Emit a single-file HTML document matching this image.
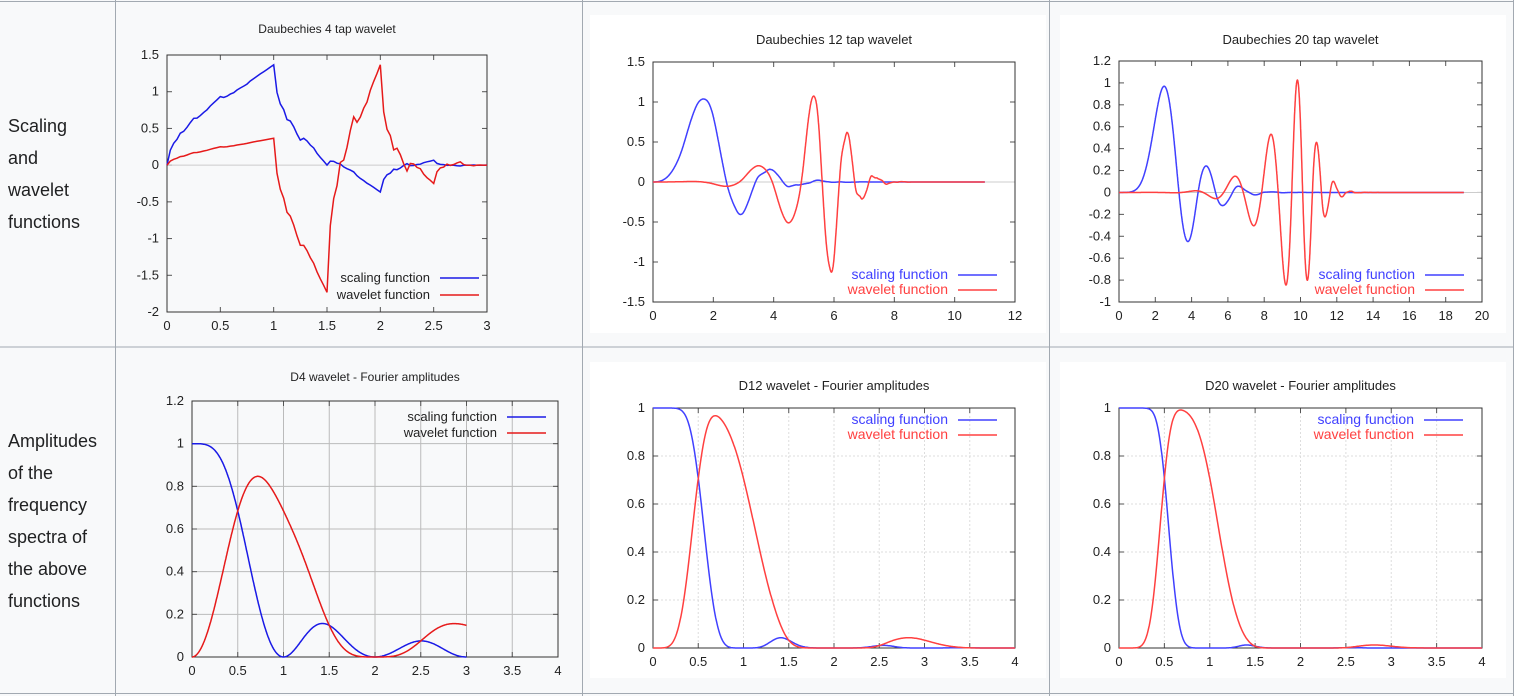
<!DOCTYPE html>
<html><head><meta charset="utf-8">
<style>
html,body{margin:0;padding:0;background:#fff;}
body{width:1514px;height:696px;overflow:hidden;position:relative;font-family:"Liberation Sans",sans-serif;}
.lbl{position:absolute;left:8px;font-size:18px;line-height:32px;color:#202122;}
svg{position:absolute;left:0;top:0;}
</style></head>
<body>
<svg id="s" width="1514" height="696" xmlns="http://www.w3.org/2000/svg" font-family="Liberation Sans, sans-serif"></svg>
<div class="lbl" style="top:110px">Scaling<br>and<br>wavelet<br>functions</div>
<div class="lbl" style="top:425px">Amplitudes<br>of the<br>frequency<br>spectra of<br>the above<br>functions</div>
<script>
const S=document.getElementById('s');let out='';
out+='<rect x="0" y="0" width="1514" height="696" fill="#f8f9fa"/>';
out+='<rect x="590" y="15" width="456" height="318" fill="#fff"/><rect x="1060" y="15" width="446" height="318" fill="#fff"/>';
out+='<rect x="590" y="362" width="456" height="316" fill="#fff"/><rect x="1060" y="362" width="446" height="316" fill="#fff"/>';
const bc='#a2a9b1';
[1.5,347,693.5].forEach(y=>out+=`<line x1="0" x2="1514" y1="${y}" y2="${y}" stroke="${bc}"/>`);
[115.5,582.5,1049.5,1513.5].forEach(x=>out+=`<line y1="0" y2="696" x1="${x}" x2="${x}" stroke="${bc}"/>`);
const C=(r,i)=>({r,i}),add=(a,b)=>C(a.r+b.r,a.i+b.i),sub=(a,b)=>C(a.r-b.r,a.i-b.i),mul=(a,b)=>C(a.r*b.r-a.i*b.i,a.r*b.i+a.i*b.r),
div=(a,b)=>{const d=b.r*b.r+b.i*b.i;return C((a.r*b.r+a.i*b.i)/d,(a.i*b.r-a.r*b.i)/d)},ab=a=>Math.hypot(a.r,a.i),
csqrt=a=>{const m=ab(a);let r=Math.sqrt((m+a.r)/2),i=Math.sqrt(Math.max(0,(m-a.r)/2));if(a.i<0)i=-i;return C(r,i)};
function binom(n,k){let r=1;for(let j=1;j<=k;j++)r=r*(n-k+j)/j;return r}
function daub(N){
 const a=[];for(let k=0;k<N;k++)a.push(binom(N-1+k,k));
 const deg=N-1,lead=a[deg];const p=a.map(v=>v/lead);
 let roots=[];for(let k=0;k<deg;k++){let z=C(1,0),b=C(0.4,0.9);for(let j=0;j<k;j++)z=mul(z,b);roots.push(z)}
 const ev=z=>{let r=C(0,0);for(let k=deg;k>=0;k--)r=add(mul(r,z),C(p[k],0));return r};
 for(let it=0;it<2000;it++){roots=roots.map((z,i)=>{let d=C(1,0);roots.forEach((w,j)=>{if(j!=i)d=mul(d,sub(z,w))});return sub(z,div(ev(z),d))})}
 let h=[C(1,0)];
 const mulp=(h,q)=>{const r=[];for(let i=0;i<h.length+q.length-1;i++)r.push(C(0,0));h.forEach((x,i)=>q.forEach((y,j)=>{r[i+j]=add(r[i+j],mul(x,y))}));return r};
 for(let k=0;k<N;k++)h=mulp(h,[C(1,0),C(1,0)]);
 roots.forEach(y=>{const b=sub(C(2,0),mul(C(4,0),y));const sq=csqrt(sub(mul(b,b),C(4,0)));let z1=mul(add(b,sq),C(.5,0)),z2=mul(sub(b,sq),C(.5,0));const z=ab(z1)<1?z1:z2;h=mulp(h,[C(-z.r,-z.i),C(1,0)])});
 let c=h.map(v=>v.r);const s=c.reduce((x,y)=>x+y,0);c=c.map(v=>v*2/s);
 const L=c.length;let e1=0,e2=0;c.forEach((v,i)=>{if(i<L/2)e1+=v*v;else e2+=v*v});if(e2>e1)c.reverse();return c}
function cascade(c,J,g0){const L=c.length;let g=g0||[1];
 for(let j=0;j<J;j++){const s=2**j,n2=(L-1)*2*s+1,gn=new Array(n2).fill(0);
  for(let n=0;n<n2;n++){let v=0;for(let k=0;k<L;k++){const m=n-k*s;if(m>=0&&m<g.length)v+=c[k]*g[m]}gn[n]=v}g=gn}
 const d=c.map((v,k)=>((k%2)?1:-1)*c[L-1-k]);const M=2**J,psi=[];
 for(let n=0;n<g.length;n++){let v=0;for(let k=0;k<L;k++){const m=2*n-k*M;if(m>=0&&m<g.length)v+=d[k]*g[m]}psi.push(v)}
 return {phi:g,psi,M}}
function m0(c,f){let r=0,i=0;c.forEach((v,k)=>{r+=v*Math.cos(2*Math.PI*k*f);i-=v*Math.sin(2*Math.PI*k*f)});return Math.hypot(r,i)/2}
function Phi(c,x){let p=1;for(let j=1;j<=25;j++)p*=m0(c,x/2**j);return p}
function fmt(v){return String(parseFloat(v.toFixed(2)))}
function chart(o){
 const X=v=>o.px0+(v-o.xmin)/(o.xmax-o.xmin)*(o.px1-o.px0),Y=v=>o.py1-(v-o.ymin)/(o.ymax-o.ymin)*(o.py1-o.py0);
 let s='';const nx=Math.round((o.xmax-o.xmin)/o.xs),ny=Math.round((o.ymax-o.ymin)/o.ys);
 for(let i=0;i<=nx;i++){const v=o.xmin+i*o.xs,x=X(v);
  if(o.grid&&i>0&&i<nx)s+=`<line x1="${x}" x2="${x}" y1="${o.py0}" y2="${o.py1}" stroke="${o.grid=='solid'?'#bbb':'#ddd'}" ${o.grid=='dot'?'stroke-dasharray="2,2"':''}/>`;
  s+=`<line x1="${x}" x2="${x}" y1="${o.py1}" y2="${o.py1-5}" stroke="#555"/><line x1="${x}" x2="${x}" y1="${o.py0}" y2="${o.py0+5}" stroke="#555"/>`;
  s+=`<text x="${x}" y="${o.py1+18}" font-size="${o.fs}" text-anchor="middle" fill="#222">${fmt(v)}</text>`}
 for(let i=0;i<=ny;i++){const v=o.ymin+i*o.ys,y=Y(v);
  if(o.grid&&i>0&&i<ny)s+=`<line y1="${y}" y2="${y}" x1="${o.px0}" x2="${o.px1}" stroke="${o.grid=='solid'?'#bbb':'#ddd'}" ${o.grid=='dot'?'stroke-dasharray="2,2"':''}/>`;
  s+=`<line y1="${y}" y2="${y}" x1="${o.px0}" x2="${o.px0+5}" stroke="#555"/><line y1="${y}" y2="${y}" x1="${o.px1}" x2="${o.px1-5}" stroke="#555"/>`;
  s+=`<text x="${o.px0-8}" y="${y+4}" font-size="${o.fs}" text-anchor="end" fill="#222">${fmt(v)}</text>`}
 if(o.zero)s+=`<line x1="${o.px0}" x2="${o.px1}" y1="${Y(0)}" y2="${Y(0)}" stroke="#ccc"/>`;
 s+=`<rect x="${o.px0}" y="${o.py0}" width="${o.px1-o.px0}" height="${o.py1-o.py0}" fill="none" stroke="#333"/>`;
 s+=`<text x="${(o.px0+o.px1)/2}" y="${o.ty}" font-size="${o.tfs}" text-anchor="middle" fill="#222">${o.title}</text>`;
 const col=[o.blue,o.red];
 o.series.forEach((pts,k)=>{s+=`<path d="${pts.map((p,i)=>(i?'L':'M')+X(p[0]).toFixed(1)+' '+Y(p[1]).toFixed(1)).join('')}" fill="none" stroke="${col[k]}" stroke-width="1.5"/>`});
 ['scaling function','wavelet function'].forEach((t,k)=>{const y=o.ly+k*o.lh;
  s+=`<text x="${o.lx}" y="${y+4}" font-size="${o.lfs}" text-anchor="end" fill="${o.ltc?col[k]:'#222'}">${t}</text><line x1="${o.lx+10}" x2="${o.lx+49}" y1="${y}" y2="${y}" stroke="${col[k]}" stroke-width="1.5"/>`});
 out+=s}
function timeSeries(N,J,g0){const c=daub(N),r=cascade(c,J,g0);const a=[],b=[];r.phi.forEach((v,n)=>a.push([n/r.M,v]));r.psi.forEach((v,n)=>b.push([n/r.M,v]));return [a,b]}
function freq(N,xmax){const c=daub(N);const a=[],b=[];for(let i=0;i<=600;i++){const x=i/600*xmax;a.push([x,Phi(c,x)]);b.push([x,m0(c,x/2+0.5)*Phi(c,x/2)])}return [a,b]}
const B1='#1a1ae6',R1='#e61a1a',B2='#4040ff',R2='#ff4040';
const s3=Math.sqrt(3);
chart({px0:167,px1:487,xmin:0,xmax:3,xs:.5,py0:55,py1:312,ymin:-2,ymax:1.5,ys:.5,fs:13,tfs:12,lfs:13,ty:33,title:'Daubechies 4 tap wavelet',zero:1,series:timeSeries(2,5,[0,(1+s3)/2,(1-s3)/2,0]),blue:B1,red:R1,lx:430,ly:278,lh:17,ltc:0});
chart({px0:653,px1:1015,xmin:0,xmax:12,xs:2,py0:62,py1:302,ymin:-1.5,ymax:1.5,ys:.5,fs:13,tfs:13,lfs:14,ty:44,title:'Daubechies 12 tap wavelet',zero:1,series:timeSeries(6,7),blue:B2,red:R2,lx:948,ly:275,lh:15,ltc:1});
chart({px0:1119,px1:1482,xmin:0,xmax:20,xs:2,py0:61,py1:302,ymin:-1,ymax:1.2,ys:.2,fs:13,tfs:13,lfs:14,ty:44,title:'Daubechies 20 tap wavelet',zero:1,series:timeSeries(10,7),blue:B2,red:R2,lx:1415,ly:275,lh:15,ltc:1});
chart({px0:192,px1:558,xmin:0,xmax:4,xs:.5,py0:401,py1:657,ymin:0,ymax:1.2,ys:.2,fs:13,tfs:12,lfs:13,ty:381,title:'D4 wavelet - Fourier amplitudes',grid:'solid',series:freq(2,3),blue:B1,red:R1,lx:497,ly:417,lh:16,ltc:0});
chart({px0:653,px1:1015,xmin:0,xmax:4,xs:.5,py0:408,py1:648,ymin:0,ymax:1,ys:.2,fs:13,tfs:13,lfs:14,ty:390,title:'D12 wavelet - Fourier amplitudes',grid:'dot',series:freq(6,4),blue:B2,red:R2,lx:948,ly:420,lh:15,ltc:1});
chart({px0:1119,px1:1482,xmin:0,xmax:4,xs:.5,py0:408,py1:648,ymin:0,ymax:1,ys:.2,fs:13,tfs:13,lfs:14,ty:390,title:'D20 wavelet - Fourier amplitudes',grid:'dot',series:freq(10,4),blue:B2,red:R2,lx:1414,ly:420,lh:15,ltc:1});
S.innerHTML=out;
</script>
</body></html>
